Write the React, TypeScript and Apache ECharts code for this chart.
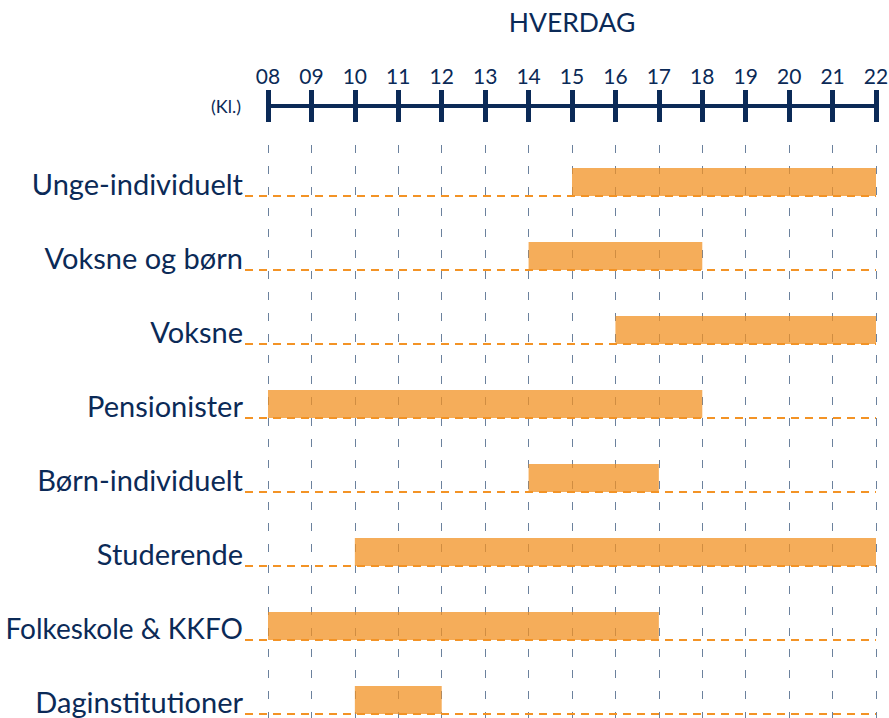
import React, { useEffect, useRef } from "react";
import * as echarts from "echarts";

const categories = [
  "Unge-individuelt",
  "Voksne og børn",
  "Voksne",
  "Pensionister",
  "Børn-individuelt",
  "Studerende",
  "Folkeskole & KKFO",
  "Daginstitutioner",
];
const startHours = [15, 14, 16, 8, 14, 10, 8, 10];
const endHours = [22, 18, 22, 18, 17, 22, 17, 12];
const hourMin = 8;
const hourMax = 22;
const titleText = "HVERDAG";
const axisName = "(Kl.)";

const NAVY = "#0b2a57";
const FONT = "Lato, 'Open Sans', sans-serif";

export default function App() {
  const ref = useRef<HTMLDivElement>(null);
  useEffect(() => {
    if (!ref.current) return;
    const chart = echarts.init(ref.current, null, { renderer: "svg" });
    const data = categories.map((c, i) => [i, startHours[i], endHours[i]]);
    const xCommon = {
      type: "value",
      min: hourMin,
      max: hourMax,
      interval: 1,
    };
    chart.setOption({
      animation: false,
      textStyle: { fontFamily: FONT },
      title: {
        text: titleText,
        left: 567,
        top: 3,
        textAlign: "center",
        textStyle: { color: NAVY, fontSize: 26.5, fontWeight: "normal", fontFamily: FONT },
      },
      grid: [
        { left: 268, right: 13, top: 145, bottom: -19, outerBoundsMode: "none", containLabel: false },
        { left: 268, right: 13, top: 106, height: 10, outerBoundsMode: "none", containLabel: false },
      ],
      xAxis: [
        {
          ...xCommon,
          gridIndex: 0,
          position: "top",
          axisLine: { show: false },
          axisTick: { show: false },
          axisLabel: { show: false },
          splitLine: {
            show: true,
            lineStyle: { color: "#6b819d", width: 1, type: [8, 13] },
          },
        },
        {
          ...xCommon,
          gridIndex: 1,
          position: "top",
          name: axisName,
          nameLocation: "start",
          nameGap: 27,
          nameTextStyle: { color: NAVY, fontSize: 18, fontFamily: FONT, padding: [0, 0, 8, 0] },
          axisLine: { show: true, lineStyle: { color: NAVY, width: 4 } },
          axisTick: { show: true, length: 16, lineStyle: { color: NAVY, width: 5 } },
          axisLabel: {
            show: true,
            margin: 20,
            color: NAVY,
            fontSize: 21,
            fontFamily: FONT,
            formatter: (v: number) => (v < 10 ? "0" + v : String(v)),
          },
          splitLine: { show: false },
        },
        {
          ...xCommon,
          gridIndex: 1,
          position: "top",
          axisLine: { show: false },
          axisTick: { show: true, inside: true, length: 16, lineStyle: { color: NAVY, width: 5 } },
          axisLabel: { show: false },
          splitLine: { show: false },
        },
      ],
      yAxis: [
        {
          type: "category",
          gridIndex: 0,
          data: categories,
          inverse: true,
          axisLine: { show: false },
          axisTick: { show: false },
          splitLine: { show: false },
          axisLabel: {
            color: NAVY,
            fontSize: 29,
            fontFamily: FONT,
            margin: 25,
            padding: [3, 0, 0, 0],
            formatter: (v: string) => (v.length > 16 && v.indexOf("&") >= 0 ? "{n|" + v + "}" : v),
            rich: {
              n: { fontSize: 28, color: NAVY, fontFamily: FONT },
            },
          },
        },
        {
          type: "category",
          gridIndex: 1,
          data: [""],
          show: false,
        },
      ],
      series: [
        {
          type: "custom",
          xAxisIndex: 0,
          yAxisIndex: 0,
          clip: false,
          encode: { x: [1, 2], y: 0 },
          data,
          renderItem: (params: any, api: any) => {
            const cat = api.value(0);
            const p0 = api.coord([api.value(1), cat]);
            const p1 = api.coord([api.value(2), cat]);
            const leftEdge = api.coord([hourMin, cat])[0];
            const rightEdge = api.coord([hourMax, cat])[0];
            const h = 28;
            const bottom = p0[1] + h / 2;
            return {
              type: "group",
              children: [
                {
                  type: "rect",
                  shape: { x: p0[0], y: bottom - h, width: p1[0] - p0[0], height: h },
                  style: { fill: "rgba(242,145,35,0.75)" },
                },
                {
                  type: "line",
                  shape: { x1: leftEdge - 23, y1: bottom, x2: rightEdge, y2: bottom },
                  style: { stroke: "#f39325", lineWidth: 2, lineDash: [8, 6] },
                },
              ],
            };
          },
        },
      ],
    });
    return () => chart.dispose();
  }, []);
  return <div ref={ref} style={{ width: 889, height: 718, position: "absolute", left: 0, top: 0 }} />;
}
